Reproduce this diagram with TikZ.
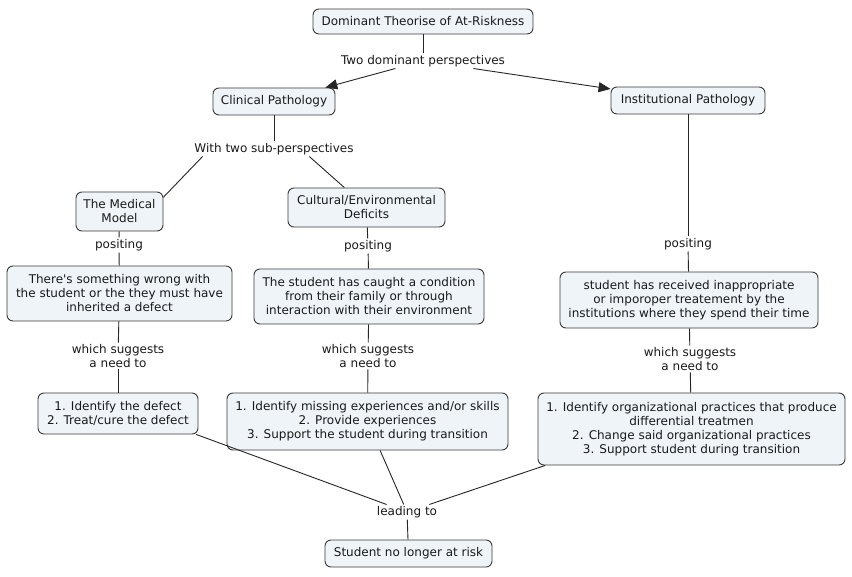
\documentclass[tikz,border=0pt]{standalone}
\usepackage{fontspec}
\newfontfamily\dv{DejaVu Sans}
\usetikzlibrary{arrows.meta}
\definecolor{boxfill}{HTML}{EEF4F8}
\definecolor{boxline}{HTML}{3A3A3A}
\definecolor{txt}{HTML}{1A1A1A}
\begin{document}
\begin{tikzpicture}[x=1pt,y=-1pt,
  every node/.style={font=\dv\fontsize{12}{14}\selectfont, text=txt},
  cbox/.style={draw=boxline, fill=boxfill, rounded corners=6pt, line width=0.9pt, align=center, inner sep=0pt},
  lab/.style={align=center, inner sep=1.5pt},
  link/.style={draw=black!85, line width=0.9pt},
  arr/.style={link, -{Triangle[length=12pt,width=10pt]}}]
\useasboundingbox[fill=white] (0,0) rectangle (852,577);

\node[cbox, minimum width=220, minimum height=25] (top) at (423,21.5) {Dominant Theorise of At-Riskness};
\node[lab] (two) at (423,61) {Two dominant perspectives};
\node[cbox, minimum width=122, minimum height=27] (clin) at (274,101.5) {Clinical Pathology};
\node[cbox, minimum width=154, minimum height=27] (inst) at (688,100.5) {Institutional Pathology};
\node[lab] (sub) at (274,149) {With two sub-perspectives};
\node[cbox, minimum width=87, minimum height=39] (med) at (119.5,211.5) {The Medical\\Model};
\node[cbox, minimum width=157, minimum height=39] (cult) at (366.5,207.5) {Cultural/Environmental\\Deficits};
\node[lab] (pos1) at (119,245) {positing};
\node[lab] (pos2) at (368,246) {positing};
\node[lab] (pos3) at (688,244) {positing};
\node[cbox, minimum width=225, minimum height=55] (wrong) at (119.5,293.5) {There's something wrong with\\the student or the they must have\\inherited a defect};
\node[cbox, minimum width=230, minimum height=55] (caught) at (369,296.5) {The student has caught a condition\\from their family or through\\interaction with their environment};
\node[cbox, minimum width=258, minimum height=56] (recv) at (689,300) {student has received inappropriate\\or imporoper treatement by the\\institutions where they spend their time};
\node[lab] (ws1) at (118,356) {which suggests\\a need to};
\node[lab] (ws2) at (368,356) {which suggests\\a need to};
\node[lab] (ws3) at (690,359) {which suggests\\a need to};
\node[cbox, minimum width=160, minimum height=41] (lb) at (118,413.5) {1. Identify the defect\\2. Treat/cure the defect};
\node[cbox, minimum width=281, minimum height=57] (mb) at (367.5,421.5) {1. Identify missing experiences and/or skills\\2. Provide experiences\\3. Support the student during transition};
\node[cbox, minimum width=307, minimum height=72] (rb) at (691.5,429) {1. Identify organizational practices that produce\\differential treatmen\\2. Change said organizational practices\\3. Support student during transition};
\node[lab] (lead) at (407,512) {leading to};
\node[cbox, minimum width=167, minimum height=27] (end) at (408.5,553.5) {Student no longer at risk};

\draw[link] (top) -- (two);
\draw[arr] (two) -- (clin);
\draw[arr] (two) -- (inst);
\draw[link] (clin) -- (sub);
\draw[link] (sub.186) -- (med.18);
\draw[link] (sub.-12.5) -- (cult.138);
\draw[link] (med) -- (pos1);
\draw[link] (pos1) -- (wrong);
\draw[link] (wrong) -- (ws1);
\draw[link] (ws1) -- (lb);
\draw[link] (cult) -- (pos2);
\draw[link] (pos2) -- (caught);
\draw[link] (caught) -- (ws2);
\draw[link] (ws2) -- (mb);
\draw[link] (inst) -- (pos3);
\draw[link] (pos3) -- (recv);
\draw[link] (recv) -- (ws3);
\draw[link] (ws3) -- (rb);
\draw[link] (lb.-15) -- (lead);
\draw[link] (mb) -- (lead);
\draw[link] (rb.194) -- (lead);
\draw[link] (lead) -- (end);
\end{tikzpicture}
\end{document}
